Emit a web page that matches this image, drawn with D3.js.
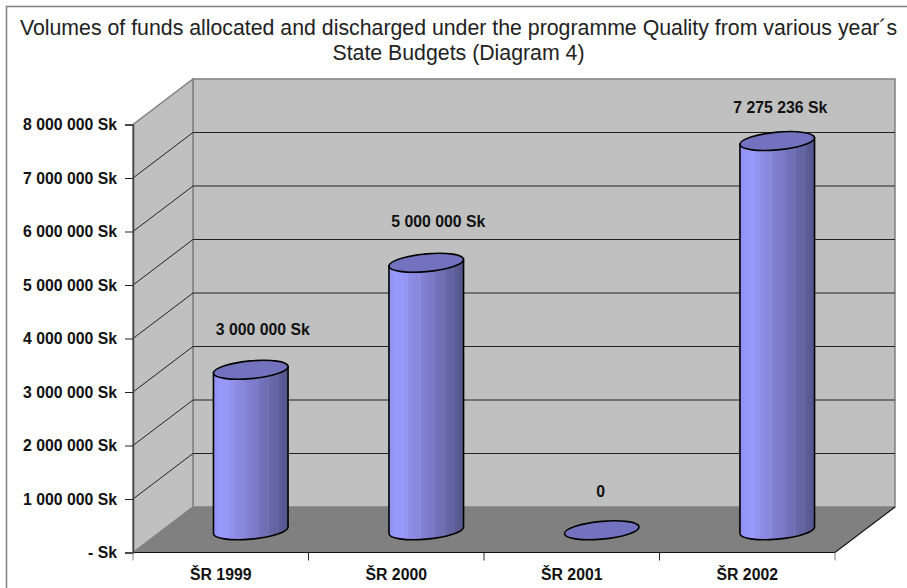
<!DOCTYPE html>
<html>
<head>
<meta charset="utf-8">
<script src="https://cdnjs.cloudflare.com/ajax/libs/d3/7.8.5/d3.min.js"></script>
<style>
  html, body { margin: 0; background: #fff; }
  text { font-family: "Liberation Sans", Arial, sans-serif; fill: #111; }
  .tick-label, .bar-label { font-size: 15.8px; font-weight: bold; }
</style>
</head>
<body>
<svg id="chart" width="907" height="588" style="display:block"></svg>
<script>
// Data
const categories = ["ŠR 1999", "ŠR 2000", "ŠR 2001", "ŠR 2002"];
const values = [3000000, 5000000, 0, 7275236];
const valueLabels = ["3 000 000 Sk", "5 000 000 Sk", "0", "7 275 236 Sk"];
const yTicks = [0, 1000000, 2000000, 3000000, 4000000, 5000000, 6000000, 7000000, 8000000];
const titleLines = [
    "Volumes of funds allocated and discharged under the programme Quality from various year´s",
    "State Budgets (Diagram 4)"
];

// Label nudges, the source chart had them hand placed
const labelDx = [12, 12, -1, 3];
const labelDy = [-40, -41, -38, -33];

// Front plane of the 3D box and how far the back wall is shifted
const plot = {left: 133, right: 835, top: 124.5, bottom: 552.5};
const depth = {x: 60, y: -45.5};

const svg = d3.select("#chart");

const xScale = d3.scaleBand()
    .domain(categories)
    .range([plot.left, plot.right])
    .paddingInner(0.575)
    .paddingOuter(0.2875);

const yScale = d3.scaleLinear()
    .domain([0, 8000000])
    .range([plot.bottom, plot.top]);

const line = d3.line();

// Gradient for the cylinders, with the banding of the original
const defs = svg.append("defs");
const grad = defs.append("linearGradient").attr("id", "cyl");
const stops = [
    [0, "#8e8ef2"], [0.08, "#9898fb"], [0.2, "#9898fa"], [0.24, "#9090ee"], [0.25, "#9b9bef"],
    [0.26, "#8f8fea"], [0.4, "#8686db"], [0.41, "#9292df"], [0.42, "#8484d8"], [0.58, "#7878c4"],
    [0.59, "#8585ca"], [0.6, "#7575c0"], [0.72, "#6d6db2"], [0.73, "#7a7ab8"], [0.74, "#6a6aae"],
    [0.85, "#62629f"], [0.86, "#6e6ea6"], [0.87, "#5f5f9b"], [1, "#54548a"]
];
stops.forEach(s => grad.append("stop").attr("offset", s[0]).attr("stop-color", s[1]));

// Outer frame, only top and left are inside the picture
svg.append("path")
    .attr("d", line([[6.5, 588], [6.5, 6.5], [907, 6.5]]))
    .attr("fill", "none")
    .attr("stroke", "#808080")
    .attr("stroke-width", 1.5);

// Title
svg.append("g").selectAll("text")
    .data(titleLines)
    .join("text")
    .attr("x", 458.5)
    .attr("y", (d, i) => 35 + i * 25)
    .attr("text-anchor", "middle")
    .attr("font-size", "21.3px")
    .style("fill", "#222")
    .text(d => d);

// Back wall
svg.append("rect")
    .attr("x", plot.left + depth.x)
    .attr("y", plot.top + depth.y)
    .attr("width", plot.right - plot.left)
    .attr("height", plot.bottom - plot.top)
    .attr("fill", "#c0c0c0")
    .attr("stroke", "#808080")
    .attr("stroke-width", 1.5);

// Side wall
svg.append("path")
    .attr("d", line([
        [plot.left, plot.top],
        [plot.left + depth.x, plot.top + depth.y],
        [plot.left + depth.x, plot.bottom + depth.y],
        [plot.left, plot.bottom]
    ]) + "Z")
    .attr("fill", "#c0c0c0")
    .attr("stroke", "#808080")
    .attr("stroke-width", 1.5);

// Gridlines run across the side wall then along the back
svg.append("g").selectAll("path")
    .data(yTicks.slice(1, -1))
    .join("path")
    .attr("d", d => line([
        [plot.left, yScale(d)],
        [plot.left + depth.x, yScale(d) + depth.y],
        [plot.right + depth.x, yScale(d) + depth.y]
    ]))
    .attr("fill", "none")
    .attr("stroke", "#222")
    .attr("stroke-width", 1);

// Floor
svg.append("path")
    .attr("d", line([
        [plot.left, plot.bottom],
        [plot.left + depth.x, plot.bottom + depth.y],
        [plot.right + depth.x, plot.bottom + depth.y],
        [plot.right, plot.bottom]
    ]) + "Z")
    .attr("fill", "#808080");

svg.append("path")
    .attr("d", line([
        [plot.left, plot.bottom],
        [plot.right, plot.bottom],
        [plot.right + depth.x, plot.bottom + depth.y]
    ]))
    .attr("fill", "none")
    .attr("stroke", "#111")
    .attr("stroke-width", 1.2);

// Y axis
const yAxis = svg.append("g")
    .attr("transform", `translate(${plot.left},0)`)
    .call(d3.axisLeft(yScale)
        .tickValues(yTicks)
        .tickSize(8)
        .tickPadding(8)
        .tickFormat((d, i) => d === 0 ? "- Sk" : d3.format(",")(d).replace(/,/g, " ") + " Sk"));
yAxis.select(".domain").attr("stroke", "#444").attr("stroke-width", 1.5);
yAxis.selectAll(".tick line").attr("stroke", "#222");
yAxis.selectAll(".tick text").attr("class", "tick-label").attr("fill", "#111");

// X axis, the ticks sit between the categories
const xAxis = svg.append("g")
    .attr("transform", `translate(0,${plot.bottom})`)
    .call(d3.axisBottom(xScale).tickSize(0).tickPadding(16));
xAxis.select(".domain").remove();
xAxis.selectAll(".tick text").attr("class", "tick-label").attr("fill", "#111");
xAxis.selectAll("line.sep")
    .data(d3.range(categories.length + 1))
    .join("line")
    .attr("class", "sep")
    .attr("x1", i => plot.left + i * xScale.step())
    .attr("x2", i => plot.left + i * xScale.step())
    .attr("y1", 0)
    .attr("y2", 8)
    .attr("stroke", (d, i) => i === 0 || i === categories.length ? "#808080" : "#222");

// Cylinders stand half way into the box
const rx = xScale.bandwidth() / 2;
const ry = 8.9;
const baseY = plot.bottom + depth.y / 2 + 0.5;
const heightOf = v => plot.bottom - yScale(v);
const centerX = d => xScale(d) + rx + depth.x / 2;

const bars = svg.append("g").selectAll("g")
    .data(categories.map((c, i) => ({c, v: values[i], label: valueLabels[i], i})))
    .join("g")
    .attr("transform", d => `translate(${centerX(d.c)},0) skewY(-5)`);

bars.filter(d => d.v > 0).append("path")
    .attr("d", d => {
        const top = baseY - heightOf(d.v);
        return `M${-rx},${top}L${-rx},${baseY}A${rx},${ry} 0 0 0 ${rx},${baseY}L${rx},${top}Z`;
    })
    .attr("fill", "url(#cyl)")
    .attr("stroke", "#000")
    .attr("stroke-width", 1.6);

bars.append("ellipse")
    .attr("cx", 0)
    .attr("cy", d => baseY - heightOf(d.v))
    .attr("rx", rx)
    .attr("ry", ry)
    .attr("fill", "#7272bf")
    .attr("stroke", "#000")
    .attr("stroke-width", 1.6);

// Value labels
svg.append("g").selectAll("text")
    .data(values)
    .join("text")
    .attr("class", "bar-label")
    .attr("x", (d, i) => centerX(categories[i]) + labelDx[i])
    .attr("y", (d, i) => baseY - heightOf(d) + labelDy[i] + 5)
    .attr("text-anchor", "middle")
    .text((d, i) => valueLabels[i]);
</script>
</body>
</html>
